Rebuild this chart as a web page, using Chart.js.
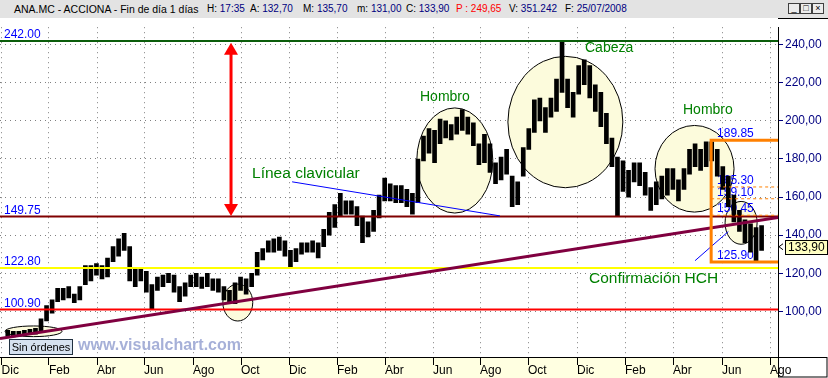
<!DOCTYPE html>
<html>
<head>
<meta charset="utf-8">
<title>ANA.MC - ACCIONA</title>
<script src="https://cdn.jsdelivr.net/npm/chart.js"></script>
<style>
  html, body { margin: 0; padding: 0; background: #fff; }
  body { width: 828px; height: 378px; overflow: hidden; position: relative; font-family: "Liberation Sans", Arial, sans-serif; }
  #bar { position: absolute; left: 0; top: 0; width: 828px; height: 18px; background: #e3e3e3; font-size: 10px; line-height: 18px; white-space: pre; }
  #bar > span { position: absolute; top: 0; }
  #bar > span:first-child { font-size: 10.5px; }
  .v { color: #000080; }
  .p { color: #ff0000; }
  .btn { position: absolute; top: 3px; width: 10px; height: 9px; border: 1px solid #404040; background: #ececec; font-size: 9px; line-height: 9px; text-align: center; color: #000; }
  #wrap { position: absolute; left: 0; top: 18px; width: 828px; height: 360px; }
</style>
</head>
<body>
<div id="bar">
  <span style="left:14px">ANA.MC - ACCIONA - Fin de día 1 días</span>
  <span style="left:207px">H: <span class="v">17:35</span></span>
  <span style="left:250px">A: <span class="v">132,70</span></span>
  <span style="left:303px">M: <span class="v">135,70</span></span>
  <span style="left:357px">m: <span class="v">131,00</span></span>
  <span style="left:406px">C: <span class="v">133,90</span></span>
  <span style="left:456px" class="p">P : 249,65</span>
  <span style="left:509px">V: <span class="v">351.242</span></span>
  <span style="left:565px">F: <span class="v">25/07/2008</span></span>
  <div class="btn" style="left:788px">_</div>
  <div class="btn" style="left:800px">□</div>
  <div class="btn" style="left:812px">×</div>
</div>
<div id="wrap"><canvas id="chart"></canvas></div>
<script>
// weekly ranges, first week = 5 Dec 2005, last week = 21 Jul 2008
const weekLows = [
  87, 86.5, 87, 87.5, 88, 88, 89, 95, 99, 105,
  106, 107, 104.5, 106, 114, 116, 119, 117, 118, 126,
  129, 132, 116, 113, 116, 110, 101, 111, 113, 115,
  110, 105, 108, 113, 113, 112, 113, 111, 110, 106,
  105, 104, 111, 109, 113, 119, 127, 131, 131, 132,
  129, 123, 126, 130, 131, 131, 128, 134, 140, 144,
  150, 151, 151, 145, 136, 139, 142, 149, 158, 158,
  157, 157, 155, 151, 157, 179, 183, 178, 188, 191,
  190, 193, 195, 193, 187, 177, 178, 173, 167, 169,
  172, 155, 156, 171, 185, 194, 200, 194, 202, 205,
  215, 207, 202, 214, 219, 212, 205, 197, 188, 176,
  150, 163, 160, 168, 166, 161, 153, 156, 159, 161,
  164, 158, 164, 172, 176, 174, 176, 179, 171, 164,
  155, 147, 142, 136, 131, 126, 132
];
const weekHighs = [
  90, 89.5, 89.5, 90, 90.5, 91, 96, 103, 106, 112,
  112, 113, 109, 113, 124, 124, 125, 124, 128, 134,
  138, 141, 134, 123, 123, 121, 114, 118, 119, 120,
  119, 113, 115, 119, 120, 118, 120, 117, 117, 113,
  111, 115, 118, 117, 120, 131, 133, 137, 138, 139,
  137, 132, 133, 136, 136, 137, 136, 143, 152, 156,
  162, 158, 158, 155, 150, 147, 153, 161, 170, 167,
  166, 166, 164, 162, 180, 192, 196, 195, 201, 200,
  198, 202, 206, 202, 199, 188, 193, 188, 178, 181,
  185, 171, 168, 186, 196, 211, 212, 207, 212, 222,
  242, 222, 215, 229, 232, 229, 219, 215, 204, 191,
  181, 179, 174, 178, 178, 173, 165, 168, 171, 175,
  175, 169, 175, 185, 188, 185, 189, 189, 185, 176,
  171, 161, 153, 148, 146, 144, 145
];
const lastClose = 133.90;

// x axis in week numbers: month ticks
const monthTickWeeks = [-1.11, 7.44, 16.10, 24.58, 33.42, 42.08, 50.74, 59.40, 68.06, 76.72, 85.20, 93.86, 102.70, 111.36, 120.02, 128.86, 137.52];
const monthTickNames = ['Dic', 'Feb', 'Abr', 'Jun', 'Ago', 'Oct', 'Dic', 'Feb', 'Abr', 'Jun', 'Ago', 'Oct', 'Dic', 'Feb', 'Abr', 'Jun', 'Ago'];
const priceTicks = [100, 120, 140, 160, 180, 200, 220, 240];

// drawn levels
const levelValues = [242.00, 149.75, 122.80, 100.90];
const boxLevels = [189.85, 165.30, 159.10, 150.45, 125.90];

// annotation shapes in data space (week, price)
const ellipses = [
  { w: 80.65, v: 179.2, rw: 6.86, rv: 27.6 },
  { w: 100.6, v: 199.4, rw: 10.37, rv: 34.5 },
  { w: 123.9, v: 174.85, rw: 7.13, rv: 22.75 },
  { w: 132.3, v: 146.45, rw: 2.89, rv: 11.25 },
  { w: 41.5, v: 104.6, rw: 2.7, rv: 9.7 },
  { w: 4.65, v: 89.5, rw: 5.14, rv: 2.8 }
];
const trendLine = [[-1.4, 85.7], [138.96, 149.3]];
const neckLine = [[51.3, 168.0], [88.8, 150.1]];
const pullbackLine = [[124.0, 126.6], [130.0, 141.9]];
const arrowSpan = { w: 40.28, top: 241, bottom: 150 };
const boxStartWeek = 126.9;
const notes = [
  { text: 'Hombro', w: 74.37, v: 210.4 },
  { text: 'Cabeza', w: 104.14, v: 236.4 },
  { text: 'Hombro', w: 121.82, v: 203.7 },
  { text: 'Línea clavicular', w: 44.07, v: 170.0 },
  { text: 'Confirmación HCH', w: 104.86, v: 114.8 }
];

const bars = weekLows.map((lo, i) => ({ x: i, y: [lo, weekHighs[i]] }));

const font = 'Liberation Sans, Arial, sans-serif';

const annotations = {
  id: 'annotations',
  beforeDraw(chart) {
    const { ctx, chartArea: a } = chart;
    ctx.save();
    ctx.fillStyle = '#ffffe1';
    ctx.fillRect(0, a.bottom, a.right, chart.height - a.bottom);
    ctx.strokeStyle = '#000';
    ctx.lineWidth = 1;
    ctx.strokeRect(a.right + 0.5, a.bottom + 0.5, chart.width - a.right - 1.5, chart.height - a.bottom - 1.5);
    ctx.beginPath();
    ctx.moveTo(a.right, 0.5);
    ctx.lineTo(chart.width, 0.5);
    ctx.stroke();
    ctx.restore();
  },
  beforeDatasetsDraw(chart) {
    const { ctx, chartArea: a } = chart;
    const x = chart.scales.x, y = chart.scales.y;
    ctx.save();
    ctx.beginPath();
    ctx.rect(a.left, a.top, a.right - a.left, a.bottom - a.top);
    ctx.clip();
    ellipses.forEach(e => {
      const cx = x.getPixelForValue(e.w), cy = y.getPixelForValue(e.v);
      const rx = x.getPixelForValue(e.w + e.rw) - cx;
      const ry = cy - y.getPixelForValue(e.v + e.rv);
      ctx.beginPath();
      ctx.ellipse(cx, cy, rx, ry, 0, 0, Math.PI * 2);
      ctx.fillStyle = '#fcfbdc';
      ctx.fill();
      ctx.strokeStyle = '#000';
      ctx.lineWidth = 1;
      ctx.stroke();
    });
    // labels of the target box sit under the price
    ctx.font = '12px ' + font;
    ctx.fillStyle = '#0000ff';
    boxLevels.forEach(v => {
      ctx.fillText(v.toFixed(2), x.getPixelForValue(127.96), y.getPixelForValue(v) - 3);
    });
    ctx.restore();
  },
  afterDatasetsDraw(chart) {
    const { ctx, chartArea: a } = chart;
    const x = chart.scales.x, y = chart.scales.y;
    const X = w => x.getPixelForValue(w), Y = v => y.getPixelForValue(v);
    ctx.save();
    ctx.beginPath();
    ctx.rect(a.left, a.top, a.right - a.left, a.bottom - a.top);
    ctx.clip();

    const levelColors = ['#0b5d0b', '#800000', '#ffff00', '#ff0000'];
    levelValues.forEach((v, i) => {
      ctx.strokeStyle = levelColors[i];
      ctx.lineWidth = 2;
      ctx.beginPath();
      ctx.moveTo(a.left, Y(v));
      ctx.lineTo(a.right, Y(v));
      ctx.stroke();
      ctx.font = '12px ' + font;
      ctx.fillStyle = '#0000ff';
      ctx.fillText(v.toFixed(2), 4, Y(v) - 3);
    });

    const seg = (p, color, width) => {
      ctx.strokeStyle = color;
      ctx.lineWidth = width;
      ctx.beginPath();
      ctx.moveTo(X(p[0][0]), Y(p[0][1]));
      ctx.lineTo(X(p[1][0]), Y(p[1][1]));
      ctx.stroke();
    };
    seg(trendLine, '#800040', 3);
    seg(neckLine, '#0000ff', 1);
    seg(pullbackLine, '#0000ff', 1);

    // target box
    ctx.strokeStyle = '#ff8000';
    ctx.lineWidth = 3;
    ctx.beginPath();
    ctx.moveTo(a.right, Y(boxLevels[0]));
    ctx.lineTo(X(boxStartWeek), Y(boxLevels[0]));
    ctx.lineTo(X(boxStartWeek), Y(boxLevels[4]));
    ctx.lineTo(a.right, Y(boxLevels[4]));
    ctx.stroke();
    ctx.lineWidth = 1;
    ctx.setLineDash([3, 3]);
    [1, 2, 3].forEach(i => {
      ctx.beginPath();
      ctx.moveTo(X(boxStartWeek), Y(boxLevels[i]));
      ctx.lineTo(a.right, Y(boxLevels[i]));
      ctx.stroke();
    });
    ctx.setLineDash([]);

    // red double arrow
    const ax = X(arrowSpan.w), at = Y(arrowSpan.top), ab = Y(arrowSpan.bottom);
    ctx.strokeStyle = '#ff0000';
    ctx.fillStyle = '#ff0000';
    ctx.lineWidth = 3;
    ctx.beginPath();
    ctx.moveTo(ax, at + 10);
    ctx.lineTo(ax, ab - 10);
    ctx.stroke();
    ctx.beginPath();
    ctx.moveTo(ax, at); ctx.lineTo(ax - 7, at + 12); ctx.lineTo(ax + 7, at + 12); ctx.closePath();
    ctx.fill();
    ctx.beginPath();
    ctx.moveTo(ax, ab); ctx.lineTo(ax - 7, ab - 12); ctx.lineTo(ax + 7, ab - 12); ctx.closePath();
    ctx.fill();

    // notes
    ctx.fillStyle = '#008000';
    notes.forEach(n => {
      ctx.font = (n.text.length > 15 ? '15.5px ' : '14px ') + font;
      ctx.fillText(n.text, X(n.w), Y(n.v));
    });
    ctx.restore();

    // watermark and order box
    ctx.save();
    ctx.font = 'bold 16px ' + font;
    ctx.fillStyle = '#a6b0d8';
    ctx.fillText('www.visualchart.com', 78, 332);
    ctx.fillStyle = '#d6e2f0';
    ctx.fillRect(9, 321, 63, 15);
    ctx.strokeStyle = '#203040';
    ctx.lineWidth = 1;
    ctx.strokeRect(9.5, 321.5, 63, 15);
    ctx.fillStyle = '#000';
    ctx.font = '11px ' + font;
    ctx.textAlign = 'center';
    ctx.fillText('Sin órdenes', 41, 333);
    ctx.restore();

    // last price tag
    const ty = Y(lastClose);
    ctx.save();
    ctx.fillStyle = '#ffffc0';
    ctx.fillRect(a.right + 7, ty - 7, 42, 14);
    ctx.strokeStyle = '#000';
    ctx.lineWidth = 1;
    ctx.strokeRect(a.right + 7.5, Math.round(ty - 7) + 0.5, 42, 14);
    ctx.fillStyle = '#000';
    ctx.font = '12px ' + font;
    ctx.textBaseline = 'middle';
    ctx.fillText(lastClose.toFixed(2).replace('.', ','), a.right + 10, ty + 1);
    ctx.beginPath();
    ctx.moveTo(a.right + 1, ty); ctx.lineTo(a.right + 5, ty - 3); ctx.moveTo(a.right + 1, ty); ctx.lineTo(a.right + 5, ty + 3);
    ctx.stroke();
    ctx.restore();
  }
};

const ctx = document.getElementById('chart').getContext('2d');
new Chart(ctx, {
  type: 'bar',
  data: {
    datasets: [{
      data: bars,
      backgroundColor: '#000',
      borderWidth: 0,
      barThickness: 4
    }]
  },
  options: {
    responsive: true,
    maintainAspectRatio: false,
    animation: false,
    layout: { padding: 0 },
    plugins: { legend: { display: false }, tooltip: { enabled: false } },
    scales: {
      x: {
        type: 'linear',
        min: -1.4,
        max: 138.96,
        offset: false,
        afterBuildTicks: s => { s.ticks = monthTickWeeks.map(v => ({ value: v })); },
        afterFit: s => { s.height = 21; },
        grid: { offset: false, color: '#808080', tickColor: '#000', tickLength: 8, tickBorderDash: [] },
        border: { color: '#000', dash: [1, 4] },
        ticks: {
          autoSkip: false, maxRotation: 0, align: 'start', padding: -2, color: '#000',
          font: { family: font, size: 12 },
          callback: (v, i) => monthTickNames[i]
        }
      },
      y: {
        position: 'right',
        min: 76.0,
        max: 249.2,
        afterBuildTicks: s => { s.ticks = priceTicks.map(v => ({ value: v })); },
        afterFit: s => { s.width = 50; },
        grid: { color: '#808080', tickColor: '#000080', tickLength: 5, tickBorderDash: [] },
        border: { color: '#000', dash: [1, 4] },
        ticks: {
          padding: 2, color: '#000080',
          font: { family: font, size: 12 },
          callback: v => v.toFixed(2).replace('.', ',')
        }
      }
    }
  },
  plugins: [annotations]
});
</script>
</body>
</html>
